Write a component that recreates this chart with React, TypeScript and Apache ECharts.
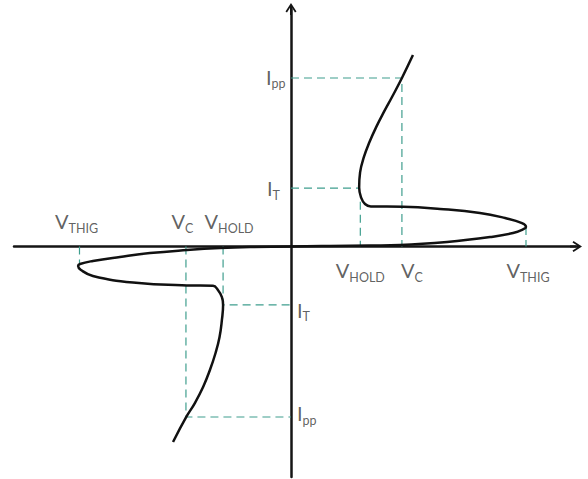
import React, { useEffect, useRef } from "react";
import * as echarts from "echarts";

// Characteristic voltages (arbitrary units) and currents
const V_THIG_POS = 10.0;
const V_C_POS = 4.72;
const V_HOLD_POS = 2.95;
const I_PP_POS = 10.0;
const I_T_POS = 3.47;
const V_THIG_NEG = -9.0;
const V_C_NEG = -4.47;
const V_HOLD_NEG = -2.89;
const I_T_NEG = -3.47;
const I_PP_NEG = -10.12;

// Positive (first-quadrant) I-V branch
const upperCurve: [number, number][] = [
  [0, 0], [1.66, 0.03], [3.36, 0.06], [4.64, 0.09], [6.64, 0.27], [8.47, 0.56],
  [9.45, 0.8], [9.91, 1.04], [10.0, 1.16], [9.83, 1.39], [9.11, 1.69], [8.04, 1.99],
  [6.34, 2.23], [4.77, 2.36], [3.4, 2.38], [3.15, 2.52], [2.98, 2.92], [2.9, 3.5],
  [2.94, 4.4], [3.1, 5.3], [3.34, 6.2], [3.63, 7.1], [3.96, 8.0], [4.31, 8.9],
  [4.72, 10.0], [5.19, 11.36],
];

// Negative (third-quadrant) I-V branch
const lowerCurve: [number, number][] = [
  [0, 0], [-1.74, -0.03], [-3.02, -0.09], [-4.43, -0.21], [-6.0, -0.39], [-7.28, -0.62],
  [-8.43, -0.86], [-8.98, -1.04], [-9.06, -1.16], [-8.94, -1.39], [-8.43, -1.75],
  [-6.72, -2.14], [-4.43, -2.31], [-3.32, -2.33], [-3.11, -2.58], [-2.94, -3.0],
  [-2.89, -3.47], [-2.94, -4.36], [-3.04, -5.37], [-3.21, -6.32], [-3.45, -7.33],
  [-3.74, -8.34], [-4.09, -9.29], [-4.45, -10.1], [-5.02, -11.6],
];

// Dashed guide lines
const guideLines: [number, number][][] = [
  [[0, I_PP_POS], [V_C_POS, I_PP_POS], [V_C_POS, 0]],
  [[0, I_T_POS], [2.89, I_T_POS]],
  [[V_HOLD_POS, 2.66], [V_HOLD_POS, 0]],
  [[V_THIG_POS, 1.16], [V_THIG_POS, 0]],
  [[V_THIG_NEG, 0], [V_THIG_NEG, -1.0]],
  [[V_C_NEG, 0], [V_C_NEG, I_PP_NEG], [0, I_PP_NEG]],
  [[V_HOLD_NEG, 0], [V_HOLD_NEG, I_T_NEG], [0, I_T_NEG]],
];

// Label texts: main letter, subscript, anchor
const labelMain = ["V", "V", "V", "V", "V", "V", "I", "I", "I", "I"];
const labelSub = ["HOLD", "C", "THIG", "THIG", "C", "HOLD", "pp", "T", "T", "pp"];
const labelAnchorX = [V_HOLD_POS, V_C_POS, V_THIG_POS, V_THIG_NEG, V_C_NEG, V_HOLD_NEG, 0, 0, 0, 0];
const labelAnchorY = [0, 0, 0, 0, 0, 0, I_PP_POS, I_T_POS, I_T_NEG, I_PP_NEG];

// Layout of labels (pixel offsets)
const labelLayout: { dx: number; dy: number; align: string }[] = [
  { dx: 0, dy: 24, align: "center" },
  { dx: 10, dy: 24, align: "center" },
  { dx: 2, dy: 24, align: "center" },
  { dx: -3, dy: -25, align: "center" },
  { dx: -3.5, dy: -25, align: "center" },
  { dx: 6, dy: -25, align: "center" },
  { dx: -25, dy: -1, align: "left" },
  { dx: -24, dy: 0, align: "left" },
  { dx: 6, dy: 5, align: "left" },
  { dx: 6, dy: -4, align: "left" },
];

const ARROW =
  "path://M6,0 L11.5,8.5 L10,9.5 L7,4.8 L7,12 L5,12 L5,4.8 L2,9.5 L0.5,8.5 Z";

export default function App() {
  const ref = useRef<HTMLDivElement>(null);
  useEffect(() => {
    if (!ref.current) return;
    const chart = echarts.init(ref.current, null, { renderer: "svg" });
    const axisCommon = {
      type: "value" as const,
      axisTick: { show: false },
      axisLabel: { show: false },
      splitLine: { show: false },
      axisLine: {
        show: true,
        onZero: true,
        symbol: ["none", ARROW],
        symbolSize: [12, 12],
        lineStyle: { color: "#151515", width: 2.5 },
      },
    };
    const rich = {
      m: { fontSize: 20, fontFamily: "Lato", color: "#383838" },
      s: { fontSize: 12.5, fontFamily: "Lato", color: "#383838", padding: [14, 0, 0, 0] },
    };
    const labelData = labelMain.map((m, i) => ({
      value: [labelAnchorX[i], labelAnchorY[i]],
      label: {
        show: true,
        position: "inside",
        formatter: `{m|${m}}{s|${labelSub[i]}}`,
        align: labelLayout[i].align,
        verticalAlign: "middle",
        offset: [labelLayout[i].dx, labelLayout[i].dy],
        rich,
      },
    }));
    const series: any[] = guideLines.map((seg) => ({
      type: "line",
      data: seg,
      symbol: "none",
      silent: true,
      z: 1,
      lineStyle: { color: "#3f9e8e", width: 1.2, type: [8, 5] },
    }));
    series.push(
      {
        type: "line",
        data: upperCurve,
        symbol: "none",
        smooth: 0.45,
        silent: true,
        z: 3,
        lineStyle: { color: "#111", width: 2.5 },
      },
      {
        type: "line",
        data: lowerCurve,
        symbol: "none",
        smooth: 0.45,
        silent: true,
        z: 3,
        lineStyle: { color: "#111", width: 2.5 },
      },
      {
        type: "scatter",
        data: labelData,
        symbolSize: 1,
        silent: true,
        itemStyle: { color: "rgba(0,0,0,0)" },
        z: 4,
      }
    );
    chart.setOption({
      animation: false,
      backgroundColor: "#ffffff",
      grid: { left: 14, right: 12, top: 9, bottom: 2, containLabel: false, outerBoundsMode: "none" },
      xAxis: { ...axisCommon, min: -11.787, max: 12.128 },
      yAxis: { ...axisCommon, min: -13.68, max: 14.095 },
      series,
    } as any);
    return () => chart.dispose();
  }, []);
  return (
    <div
      ref={ref}
      style={{ position: "fixed", left: 0, top: 0, width: 588, height: 479, background: "#fff" }}
    />
  );
}
